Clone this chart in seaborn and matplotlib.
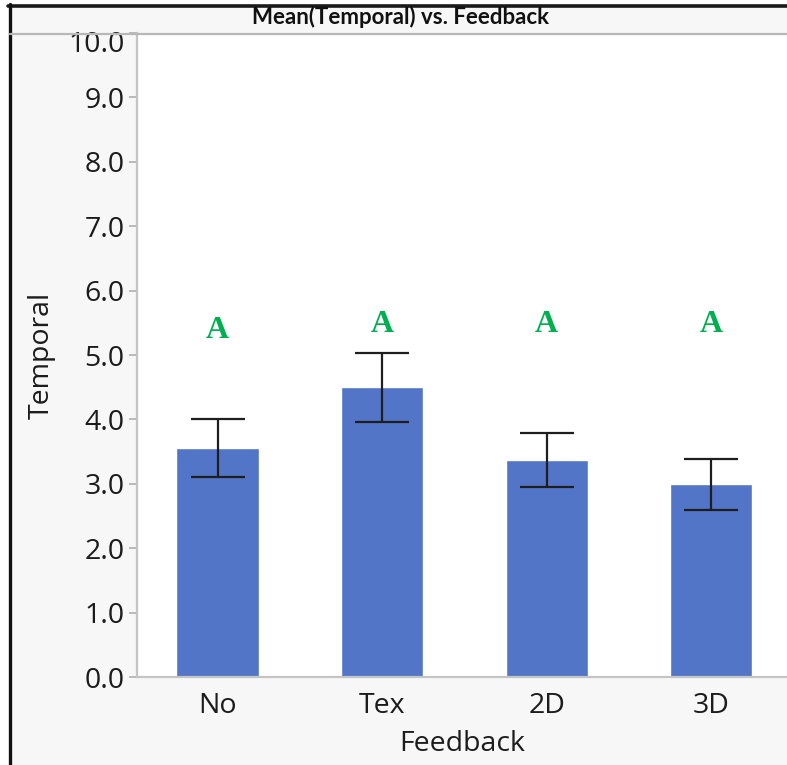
import seaborn as sns
import pandas as pd
import matplotlib.pyplot as plt
import matplotlib.transforms as mtransforms
from matplotlib.lines import Line2D
from matplotlib.patches import Rectangle

# Values
feedback = ["No", "Tex", "2D", "3D"]
mean_temporal = [3.56, 4.50, 3.37, 3.00]
err_low = [3.11, 3.96, 2.95, 2.59]
err_high = [4.01, 5.03, 3.79, 3.39]
group_letters = ["A", "A", "A", "A"]
letter_y = [5.38, 5.48, 5.48, 5.48]

df = pd.DataFrame({"Feedback": feedback, "Temporal": mean_temporal})

sns.set_style("white")
plt.rcParams['font.family'] = ['Open Sans', 'DejaVu Sans']

fig = plt.figure(figsize=(7.87, 7.65), dpi=100)
fig.patch.set_facecolor("white")
W, H = 787, 765

# gray window background + black frame (screenshot look)
fig.add_artist(Rectangle((10 / W, 0), 1 - 10 / W, 1 - 7 / H, transform=fig.transFigure,
                         facecolor="#f7f7f7", edgecolor="none", zorder=0))
fig.add_artist(Line2D([8 / W, 1], [1 - 5.5 / H, 1 - 5.5 / H], transform=fig.transFigure,
                      color="#1a1a1a", lw=2.6))
fig.add_artist(Line2D([9.5 / W, 9.5 / W], [0, 1 - 4 / H], transform=fig.transFigure,
                      color="#111111", lw=2.4))
fig.add_artist(Line2D([10 / W, 1], [1 - 33.5 / H, 1 - 33.5 / H], transform=fig.transFigure,
                      color="#b8b8b8", lw=1.6))

ax = fig.add_axes([137 / W, 1 - 677 / H, 1 - 137 / W, (677 - 33) / H])
ax.set_facecolor("white")

# Bars
sns.barplot(x="Feedback", y="Temporal", data=df, color="#5275c7", saturation=1,
            width=0.5, errorbar=None, ax=ax, zorder=2)

# Error bars
for i, (m, lo, hi) in enumerate(zip(mean_temporal, err_low, err_high)):
    ax.errorbar(i, m, yerr=[[m - lo], [hi - m]], fmt='none', ecolor='#1e1e1e',
                elinewidth=1.6, capsize=19.5, capthick=1.6, zorder=3)

# Significance letters
for i, (t, y) in enumerate(zip(group_letters, letter_y)):
    ax.text(i, y, t, ha='center', va='center', color='#00b050', fontsize=23,
            fontweight='bold', family=['Liberation Serif', 'DejaVu Serif'])

ax.set_ylim(0, 10)
ax.set_xlim(-0.49, 3.46)
ax.set_yticks([i for i in range(11)])
ax.set_yticklabels([f"{i:.1f}" for i in range(11)])

for s in ["top", "right"]:
    ax.spines[s].set_visible(False)
for s in ["left", "bottom"]:
    ax.spines[s].set_color("#c4c4c4")
    ax.spines[s].set_linewidth(1.6)

ax.tick_params(axis='y', length=6, width=1.2, color="#b0b0b0", labelsize=20.5,
               labelcolor="#1c1c1c", pad=3, left=True)
ax.tick_params(axis='x', length=0, labelsize=20.5, labelcolor="#1c1c1c", pad=11)

# top label sits a bit lower so it stays under the title bar
top_lab = ax.get_yticklabels()[-1]
top_lab.set_transform(top_lab.get_transform() +
                      mtransforms.ScaledTranslation(0, -9 / 100, fig.dpi_scale_trans))

ax.set_xlabel("Feedback", fontsize=20.5, color="#1c1c1c", labelpad=7)
ax.set_ylabel("Temporal", fontsize=20.5, color="#1c1c1c", labelpad=9)

fig.text(401 / W, 1 - 17 / H, "Mean(Temporal) vs. Feedback", ha='center', va='center',
         fontsize=16, fontweight='bold', color="#111111", family=['Lato', 'DejaVu Sans'])

plt.savefig("out.png", dpi=100)
